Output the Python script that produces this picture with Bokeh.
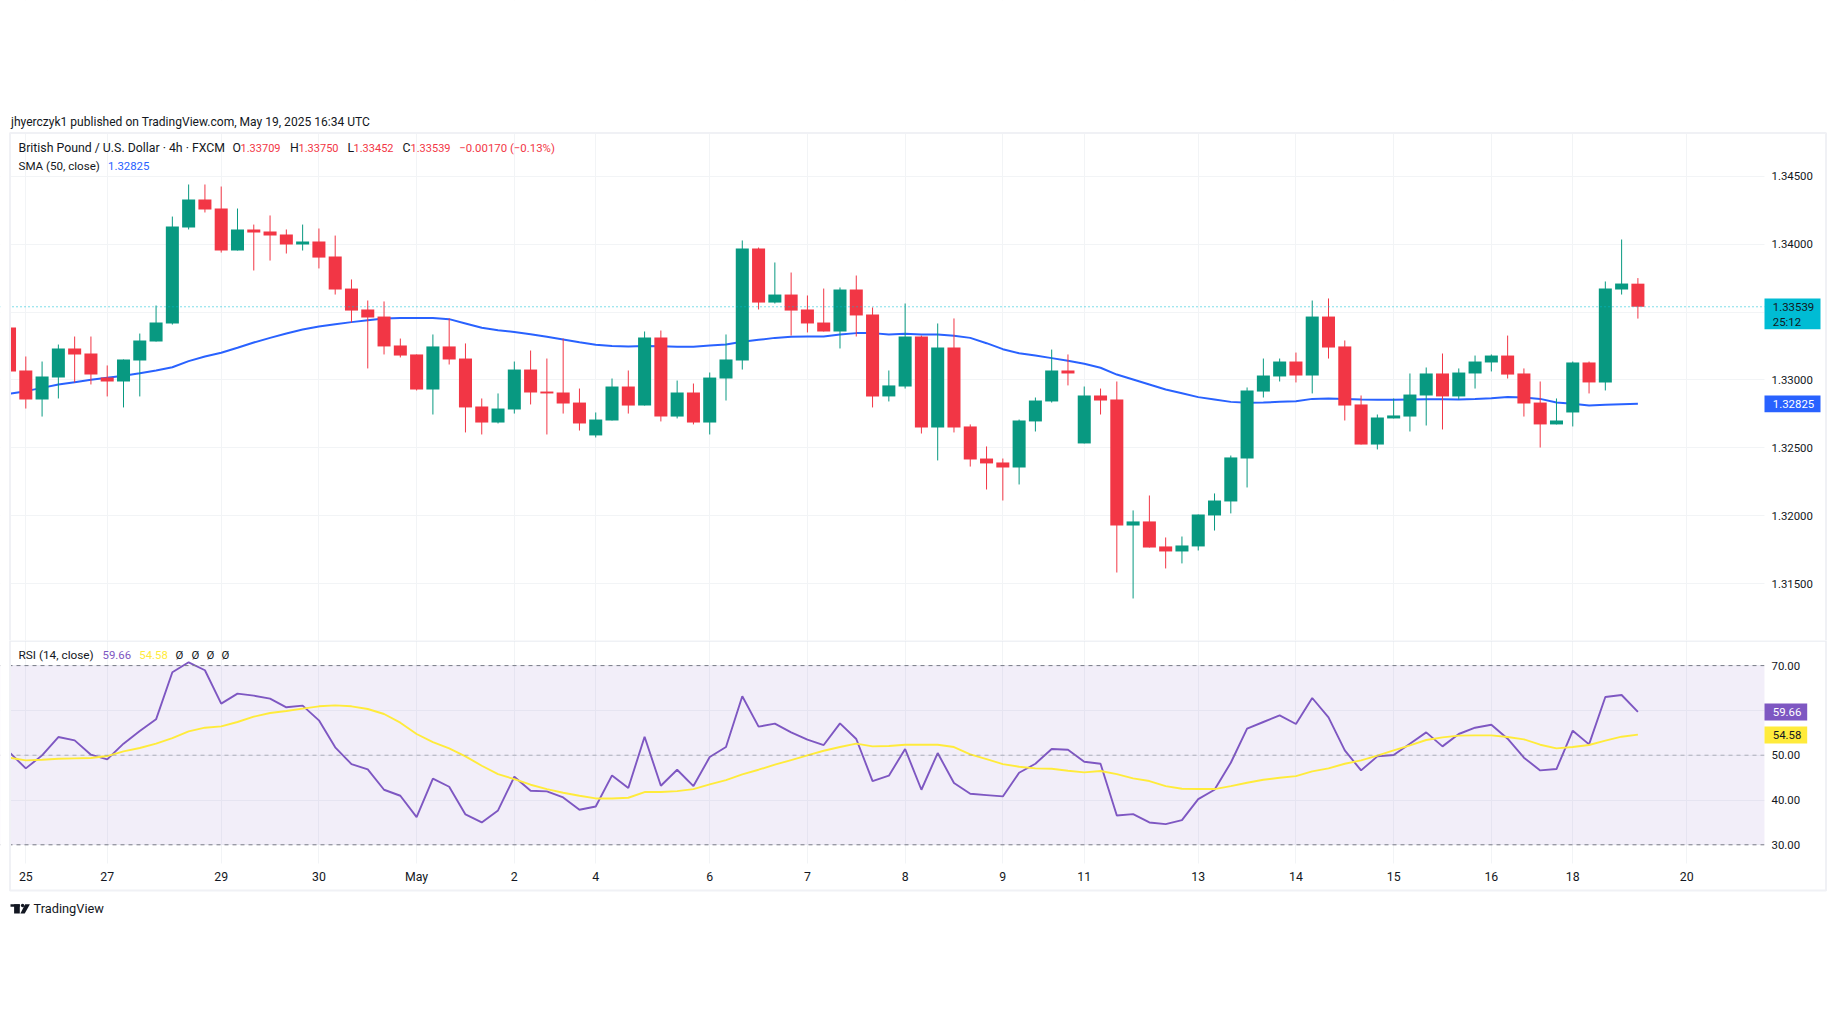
from bokeh.plotting import figure
from bokeh.models import (Range1d, FixedTicker, NumeralTickFormatter, Label, BoxAnnotation, Span,
                          ColumnDataSource, Grid, LinearAxis)
from bokeh.layouts import column
from bokeh.embed import file_html
from bokeh.resources import INLINE

bars = list(range(-1, 100))
open_ = [1.33386,1.33070,1.32856,1.33018,1.33232,1.33195,1.33018,1.32989,1.33143,1.33283,1.33416,1.34122,1.34328,1.34262,1.33953,1.34108,1.34093,1.34071,1.33997,1.34019,1.33909,1.33673,1.33519,1.33467,1.33254,1.33188,1.32930,1.33247,1.33158,1.32805,1.32687,1.32783,1.33077,1.32915,1.32908,1.32834,1.32592,1.32702,1.32952,1.32812,1.33313,1.32731,1.32908,1.32687,1.33011,1.33143,1.33968,1.33570,1.33629,1.33519,1.33423,1.33357,1.33666,1.33482,1.32879,1.32952,1.33320,1.32650,1.33239,1.32658,1.32422,1.32393,1.32356,1.32695,1.32842,1.33070,1.32533,1.32886,1.32856,1.31929,1.31959,1.31775,1.31738,1.31775,1.32003,1.32106,1.32422,1.32915,1.33026,1.33136,1.33033,1.33467,1.33247,1.32820,1.32525,1.32717,1.32731,1.32886,1.33048,1.32879,1.33048,1.33129,1.33180,1.33048,1.32834,1.32673,1.32761,1.33129,1.32982,1.33666,1.33709]
high = [1.33386,1.33173,1.33136,1.33261,1.33320,1.33320,1.33107,1.33151,1.33342,1.33548,1.34203,1.34439,1.34439,1.34424,1.34262,1.34144,1.34211,1.34108,1.34144,1.34115,1.34063,1.33740,1.33585,1.33578,1.33305,1.33188,1.33335,1.33453,1.33269,1.32864,1.32901,1.33136,1.33217,1.33158,1.33305,1.32937,1.32761,1.33011,1.33070,1.33357,1.33364,1.32996,1.32974,1.33055,1.33335,1.34027,1.33975,1.33865,1.33791,1.33622,1.33673,1.33681,1.33769,1.33534,1.33070,1.33563,1.33327,1.33416,1.33453,1.32673,1.32511,1.32422,1.32709,1.32871,1.33224,1.33188,1.32952,1.32937,1.32989,1.32040,1.32150,1.31841,1.31848,1.32010,1.32165,1.32444,1.32945,1.33158,1.33158,1.33202,1.33585,1.33600,1.33291,1.32886,1.32746,1.32864,1.33048,1.33092,1.33195,1.33085,1.33180,1.33188,1.33327,1.33085,1.32989,1.32864,1.33136,1.33136,1.33725,1.34034,1.33750]
low = [1.33063,1.32790,1.32731,1.32864,1.32982,1.32967,1.32879,1.32798,1.32879,1.33283,1.33408,1.34108,1.34233,1.33938,1.33953,1.33806,1.33879,1.33931,1.33953,1.33821,1.33629,1.33423,1.33085,1.33188,1.33166,1.32923,1.32746,1.33114,1.32614,1.32599,1.32680,1.32753,1.32820,1.32599,1.32753,1.32628,1.32577,1.32702,1.32753,1.32812,1.32695,1.32717,1.32673,1.32599,1.32849,1.33077,1.33519,1.33563,1.33327,1.33350,1.33357,1.33232,1.33320,1.32798,1.32842,1.32937,1.32606,1.32408,1.32614,1.32363,1.32194,1.32113,1.32231,1.32621,1.32834,1.32960,1.32533,1.32746,1.31583,1.31392,1.31767,1.31613,1.31650,1.31745,1.31892,1.32018,1.32209,1.32871,1.32989,1.32982,1.32901,1.33158,1.32702,1.32525,1.32489,1.32717,1.32621,1.32665,1.32636,1.32856,1.32937,1.33063,1.33011,1.32731,1.32503,1.32673,1.32658,1.32901,1.32923,1.33629,1.33452]
close = [1.33063,1.32856,1.33026,1.33232,1.33188,1.33040,1.32989,1.33151,1.33291,1.33423,1.34130,1.34328,1.34255,1.33953,1.34108,1.34085,1.34063,1.33997,1.34019,1.33901,1.33666,1.33511,1.33460,1.33247,1.33180,1.32930,1.33247,1.33151,1.32798,1.32687,1.32790,1.33077,1.32908,1.32901,1.32827,1.32680,1.32709,1.32952,1.32812,1.33313,1.32731,1.32908,1.32687,1.33018,1.33151,1.33968,1.33570,1.33629,1.33511,1.33416,1.33357,1.33666,1.33475,1.32879,1.32960,1.33320,1.32650,1.33239,1.32650,1.32415,1.32386,1.32356,1.32702,1.32849,1.33070,1.33048,1.32886,1.32849,1.31929,1.31959,1.31767,1.31738,1.31782,1.32010,1.32113,1.32430,1.32923,1.33033,1.33136,1.33033,1.33467,1.33239,1.32812,1.32525,1.32724,1.32739,1.32893,1.33048,1.32879,1.33055,1.33136,1.33180,1.33040,1.32827,1.32673,1.32702,1.33129,1.32982,1.33673,1.33710,1.33539]
sma50 = [1.32898,1.32918,1.32942,1.32967,1.32984,1.33001,1.33016,1.33031,1.33050,1.33070,1.33094,1.33139,1.33173,1.33200,1.33237,1.33276,1.33310,1.33342,1.33372,1.33394,1.33411,1.33426,1.33440,1.33453,1.33457,1.33457,1.33457,1.33448,1.33416,1.33384,1.33367,1.33354,1.33337,1.33318,1.33298,1.33278,1.33259,1.33251,1.33247,1.33251,1.33249,1.33244,1.33244,1.33254,1.33261,1.33281,1.33296,1.33310,1.33318,1.33320,1.33320,1.33335,1.33345,1.33345,1.33335,1.33340,1.33335,1.33335,1.33325,1.33310,1.33271,1.33227,1.33197,1.33180,1.33161,1.33141,1.33119,1.33090,1.33040,1.33004,1.32967,1.32930,1.32903,1.32874,1.32857,1.32839,1.32832,1.32834,1.32839,1.32844,1.32861,1.32864,1.32861,1.32857,1.32854,1.32854,1.32857,1.32859,1.32859,1.32857,1.32861,1.32866,1.32874,1.32871,1.32861,1.32834,1.32825,1.32812,1.32817,1.32822,1.32825]
rsi = [50.63,47.06,49.96,54.06,53.31,50.11,49.07,52.57,55.40,58.01,68.51,70.74,68.96,61.51,63.74,63.29,62.62,60.69,61.06,57.78,51.75,48.02,46.83,42.29,40.95,36.18,44.75,42.96,36.78,34.99,37.67,45.19,42.06,41.92,40.58,37.82,38.56,45.49,42.66,54.13,43.18,46.76,43.11,49.59,51.82,63.15,56.37,57.04,55.10,53.46,52.27,57.11,53.61,44.23,45.42,51.38,42.29,50.48,43.78,41.39,41.10,40.80,46.09,48.10,51.38,51.23,48.55,48.10,36.55,36.85,34.99,34.62,35.51,40.20,42.29,48.32,55.92,57.41,58.90,56.96,62.77,58.45,51.08,46.61,49.74,50.04,52.57,55.10,51.97,54.73,56.14,56.81,53.69,49.44,46.61,46.91,55.47,52.42,63.00,63.44,59.66]
rsi_ma = [49.44,48.84,48.99,49.22,49.29,49.36,49.81,50.85,51.60,52.57,53.83,55.32,56.14,56.44,57.41,58.60,59.42,59.87,60.39,60.91,61.13,60.91,60.31,59.20,57.26,54.73,52.94,51.53,49.74,47.65,45.79,44.67,43.41,42.44,41.62,40.95,40.35,40.35,40.50,41.77,41.77,41.99,42.44,43.48,44.45,45.72,46.76,47.88,48.92,49.96,51.00,51.82,52.57,51.97,52.05,52.34,52.34,52.34,51.82,50.18,49.14,48.02,47.43,47.06,46.98,46.53,46.16,46.46,45.79,44.82,44.23,43.11,42.51,42.44,42.44,43.11,43.85,44.52,44.97,45.34,46.39,47.06,48.10,48.84,49.89,51.08,52.20,53.39,53.98,54.36,54.43,54.43,54.06,53.54,52.34,51.53,51.82,52.27,53.24,54.13,54.58]

price_ticks = [1.315, 1.32, 1.325, 1.33, 1.335, 1.34, 1.345]
rsi_ticks = [30, 40, 50, 60, 70]
time_ticks = [0, 5, 12, 18, 24, 30, 35, 42, 48, 54, 60, 65, 72, 78, 84, 90, 95, 102]
time_labels = ["25", "27", "29", "30", "May", "2", "4", "6", "7", "8", "9", "11", "13", "14", "15", "16", "18", "20"]
last_price = 1.33539

logo_bar_x = [10, 19.3]
logo_bar_y = [8.7, 11.2]
logo_stem_x = [13.6, 19.3]
logo_stem_y = [8.7, 18]
logo_slash_x = [24.6, 29.4, 24.2, 19.9]
logo_slash_y = [8.7, 8.7, 18, 18]

FONT = "Roboto"
INK = "#131722"
GREEN = "#089981"
RED = "#F23645"
BLUE = "#2962FF"
PURPLE = "#7E57C2"
YELLOW = "#FFEB3B"
CYAN = "#00BCD4"
GRID = "#F2F4F6"
BAND = "#F0F1F5"
SZ = "12.3px"
NUM = "11.4px"
VAL = "11px"

W = 1835
PANE_L, PANE_R = 10, 1764
X0, DX = 25.3, (1637.4 - 25.3) / 99
P1_B = 640
P2_B = 895
PLOT_B2 = 863


def idx(px):
    return (px - X0) / DX


def base(height, y_range):
    p = figure(width=W, height=height, x_range=Range1d(idx(0), idx(W)), y_range=y_range,
               x_axis_location=None, y_axis_location=None, output_backend="svg", toolbar_location=None,
               min_border=0)
    p.outline_line_color = None
    p.background_fill_color = "white"
    p.border_fill_color = "white"
    p.grid.visible = False
    p.add_layout(Grid(dimension=0, ticker=FixedTicker(ticks=time_ticks), grid_line_color=GRID))
    return p


def yaxis(p, ticks, fmt, overrides=None):
    ax = LinearAxis(fixed_location=idx(PANE_R), ticker=FixedTicker(ticks=ticks),
                    formatter=NumeralTickFormatter(format=fmt), axis_line_color=None,
                    major_tick_line_color=None, minor_tick_line_color=None, major_label_standoff=1,
                    major_label_text_color=INK, major_label_text_font=FONT,
                    major_label_text_font_size=NUM, level="overlay")
    if overrides:
        ax.major_label_overrides = overrides
    p.add_layout(ax, "right")


def put(p, bottom, x, y, text, color=INK, size=SZ, align="left"):
    p.add_layout(Label(x=x, y=bottom - y, x_units="screen", y_units="screen", text=text, level="overlay",
                       text_color=color, text_font=FONT, text_font_size=size, text_align=align,
                       text_baseline="middle"))


def box(p, bottom, l, r, t, b, fill=None, line=None, width=1, level="overlay"):
    p.add_layout(BoxAnnotation(left=l, right=r, top=bottom - t, bottom=bottom - b, level=level,
                               left_units="screen", right_units="screen", top_units="screen",
                               bottom_units="screen", fill_color=fill, fill_alpha=1 if fill else 0,
                               line_color=line, line_width=width, line_alpha=1 if line else 0))


# ---- price pane
p1 = base(P1_B, Range1d(1.315 - (P1_B - 583.3) / 13587, 1.345 + 175.7 / 13587))
p1.add_layout(Grid(dimension=1, ticker=FixedTicker(ticks=price_ticks), grid_line_color=GRID))

colors = [GREEN if c >= o else RED for o, c in zip(open_, close)]
src = ColumnDataSource(dict(x=bars, o=open_, h=high, l=low, c=close, col=colors))
p1.line(bars, sma50, line_color=BLUE, line_width=2)
p1.segment("x", "h", "x", "l", source=src, line_color="col", line_width=1)
p1.vbar("x", 0.8, "o", "c", source=src, fill_color="col", line_color=None)
p1.add_layout(Span(location=last_price, dimension="width", line_color=CYAN, line_width=1, line_dash=[1, 3]))

box(p1, P1_B, 0, PANE_L, 0, P1_B, fill="white", level="annotation")
box(p1, P1_B, PANE_R, W, 0, P1_B, fill="white", level="annotation")
box(p1, P1_B, 0, W, 0, 133, fill="white", level="annotation")
box(p1, P1_B, 9.5, 1825.5, 132.5, P1_B + 5, line=BAND, width=2)
yaxis(p1, price_ticks, "0.00000")

box(p1, P1_B, PANE_R, 1820, 298, 328.7, fill=CYAN)
box(p1, P1_B, PANE_R, 1820, 395, 411.7, fill=BLUE)
put(p1, P1_B, 1772.3, 306, "1.33539", size=NUM)
put(p1, P1_B, 1772.3, 321, "25:12", size=NUM)
put(p1, P1_B, 1772.3, 403.5, "1.32825", "white", size=NUM)

put(p1, P1_B, 10.5, 121, "jhyerczyk1 published on TradingView.com, May 19, 2025 16:34 UTC", size="12.05px")
put(p1, P1_B, 18, 147.7, "British Pound / U.S. Dollar · 4h · FXCM")
put(p1, P1_B, 232, 147.7, "O")
put(p1, P1_B, 240, 147.7, "1.33709", RED, VAL)
put(p1, P1_B, 289.4, 147.7, "H")
put(p1, P1_B, 298, 147.7, "1.33750", RED, VAL)
put(p1, P1_B, 347, 147.7, "L")
put(p1, P1_B, 353, 147.7, "1.33452", RED, VAL)
put(p1, P1_B, 402, 147.7, "C")
put(p1, P1_B, 410, 147.7, "1.33539", RED, VAL)
put(p1, P1_B, 458.7, 147.7, "−0.00170 (−0.13%)", RED, NUM)
put(p1, P1_B, 18, 165, "SMA (50, close)", size="11.6px")
put(p1, P1_B, 107.5, 165, "1.32825", BLUE, NUM)

# ---- RSI pane
PX_RSI = 4.48
p2 = base(P2_B - P1_B, Range1d(30 - (P2_B - 844.3) / PX_RSI, 70 + (665.1 - P1_B) / PX_RSI))
p2.add_layout(Grid(dimension=1, ticker=FixedTicker(ticks=rsi_ticks), grid_line_color=GRID))
p2.add_layout(BoxAnnotation(bottom=30, top=70, fill_color=PURPLE, fill_alpha=0.1, line_alpha=0, level="underlay"))
p2.add_layout(Span(location=70, dimension="width", line_color="#787B86", line_width=1, line_dash=[4, 4]))
p2.add_layout(Span(location=30, dimension="width", line_color="#787B86", line_width=1, line_dash=[4, 4]))
p2.add_layout(Span(location=50, dimension="width", line_color="#787B86", line_alpha=0.55, line_width=1, line_dash=[4, 4]))
p2.line(bars, rsi, line_color=PURPLE, line_width=1.9)
p2.line(bars, rsi_ma, line_color=YELLOW, line_width=1.9)

box(p2, P2_B, 0, PANE_L, P1_B, P2_B, fill="white", level="annotation")
box(p2, P2_B, PANE_R, W, P1_B, P2_B, fill="white", level="annotation")
box(p2, P2_B, 0, W, PLOT_B2, P2_B, fill="white", level="annotation")
box(p2, P2_B, 9.5, 1825.5, P1_B - 5, 890, line=BAND, width=2)
box(p2, P2_B, 10, 1825, P1_B, P1_B + 1, fill="#E0E3EB")

yaxis(p2, rsi_ticks, "0.00", {60: ""})
time_axis = LinearAxis(fixed_location=30 - (PLOT_B2 - 844.3) / PX_RSI, ticker=FixedTicker(ticks=time_ticks),
                       major_label_overrides=dict(zip(time_ticks, time_labels)), axis_line_color=None,
                       major_tick_line_color=None, minor_tick_line_color=None, major_label_standoff=0,
                       major_label_text_color=INK, major_label_text_font=FONT,
                       major_label_text_font_size=SZ, level="overlay")
p2.add_layout(time_axis, "below")

box(p2, P2_B, PANE_R, 1806.7, 703, 720, fill=PURPLE)
box(p2, P2_B, PANE_R, 1806.7, 726, 743, fill=YELLOW)
put(p2, P2_B, 1772.3, 711.7, "59.66", "white", NUM)
put(p2, P2_B, 1772.3, 734.7, "54.58", INK, NUM)

put(p2, P2_B, 18, 654.7, "RSI (14, close)", size="11.8px")
put(p2, P2_B, 102, 654.7, "59.66", PURPLE, NUM)
put(p2, P2_B, 138.8, 654.7, "54.58", YELLOW, NUM)
for cx in (179, 195, 210, 225):
    put(p2, P2_B, cx, 654.7, "Ø", INK, size="11.4px", align="center")

# ---- logo strip
p3 = figure(width=140, height=30, x_range=Range1d(0, 140), y_range=Range1d(30, 0), x_axis_location=None,
            y_axis_location=None, output_backend="svg", toolbar_location=None, min_border=0)
p3.grid.visible = False
p3.outline_line_color = None
p3.quad(left=logo_bar_x[0], right=logo_bar_x[1], bottom=logo_bar_y[1], top=logo_bar_y[0], fill_color=INK, line_color=None)
p3.quad(left=logo_stem_x[0], right=logo_stem_x[1], bottom=logo_stem_y[1], top=logo_stem_y[0], fill_color=INK, line_color=None)
p3.scatter([22.1], [10], size=3.4, fill_color=INK, line_color=None)
p3.patch(logo_slash_x, logo_slash_y, fill_color=INK, line_color=None)
p3.add_layout(Label(x=33, y=17, x_units="screen", y_units="screen", text="TradingView", text_color=INK,
                    text_font=FONT, text_font_size="12.8px", text_baseline="middle"))

layout = column(p1, p2, p3, spacing=0)
open("out.html", "w").write(file_html(layout, INLINE))
